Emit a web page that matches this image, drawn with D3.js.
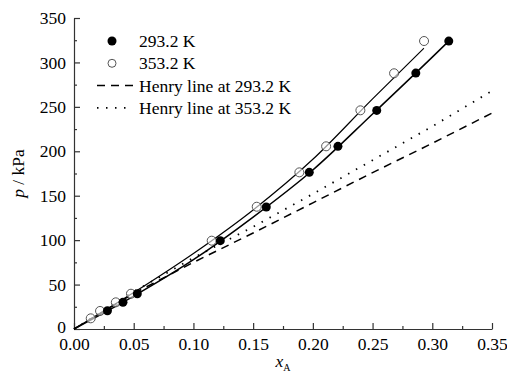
<!DOCTYPE html>
<html>
<head>
<meta charset="utf-8">
<script src="https://cdn.jsdelivr.net/npm/d3@7"></script>
<style>
  body { margin: 0; background: #fff; }
</style>
</head>
<body>
<div id="chart"></div>
<script>
// measured points, x_A vs p / kPa
const xs293 = [0.028, 0.041, 0.053, 0.1225, 0.161, 0.197, 0.221, 0.2535, 0.2862, 0.3138];
const ps293 = [20.6, 30.0, 39.7, 99.4, 137.3, 176.3, 205.6, 246.0, 288.0, 324.0];
const xs353 = [0.014, 0.0218, 0.035, 0.0477, 0.1153, 0.153, 0.1887, 0.2111, 0.2398, 0.268, 0.2931];
const ps353 = [12.0, 20.3, 30.0, 39.7, 99.4, 137.6, 176.3, 205.6, 246.1, 287.8, 324.1];

// fitted curves
const fitX293 = [0, 0.05, 0.10, 0.15, 0.20, 0.25, 0.30, 0.3138];
const fitP293 = [0, 37, 78, 126, 179, 242, 306, 324];
const fitX353 = [0, 0.05, 0.10, 0.15, 0.20, 0.25, 0.293];
const fitP353 = [0, 41, 85, 134, 191, 259, 316];

// Henry lines
const henryX = [0, 0.05, 0.10, 0.15, 0.20, 0.25, 0.30, 0.35];
const henryP293 = [0, 40, 75, 108, 142, 176, 209, 243];
const henryP353 = [0, 42, 80, 115, 152, 190, 228, 268];

const xTicks = [0, 0.05, 0.10, 0.15, 0.20, 0.25, 0.30, 0.35];
const yTicks = [0, 50, 100, 150, 200, 250, 300, 350];

const legendLabels = ["293.2 K", "353.2 K", "Henry line at 293.2 K", "Henry line at 353.2 K"];

const width = 507, height = 377;
const margin = {top: 18, right: 15, bottom: 48, left: 74};
const serif = "Liberation Serif";
const fs = 17.5;

const svg = d3.select("#chart")
  .append("svg")
    .attr("width", width)
    .attr("height", height)
    .attr("font-family", serif);

const x = d3.scaleLinear()
  .domain([0, 0.35])
  .range([margin.left, width - margin.right]);

const y = d3.scaleLinear()
  .domain([0, 350])
  .range([height - margin.bottom, margin.top]);

const zip = (a, b) => a.map((v, i) => [v, b[i]]);

// axes: ticks point inward, minor ticks between
const xAxis = d3.axisBottom(x).tickValues(xTicks).tickFormat(d3.format(".2f"))
  .tickSizeInner(-6).tickSizeOuter(0).tickPadding(9);
const xMinor = d3.axisBottom(x).tickValues(d3.range(0.025, 0.35, 0.05))
  .tickSizeInner(-3).tickSizeOuter(0).tickFormat("");

svg.append("g")
  .attr("transform", `translate(0, ${height - margin.bottom})`)
  .call(xAxis);
svg.append("g")
  .attr("transform", `translate(0, ${height - margin.bottom})`)
  .call(xMinor)
  .select(".domain").remove();

const yAxis = d3.axisLeft(y).tickValues(yTicks)
  .tickSizeInner(-6).tickSizeOuter(0).tickPadding(8);
const yMinor = d3.axisLeft(y).tickValues(d3.range(25, 350, 50))
  .tickSizeInner(-3).tickSizeOuter(0).tickFormat("");

const gy = svg.append("g")
  .attr("transform", `translate(${margin.left}, 0)`)
  .call(yAxis);
svg.append("g")
  .attr("transform", `translate(${margin.left}, 0)`)
  .call(yMinor)
  .select(".domain").remove();

svg.selectAll("g").attr("font-family", serif).attr("font-size", fs);
svg.selectAll(".domain, .tick line").attr("stroke", "#333").attr("stroke-width", 1.2);
svg.selectAll(".tick text").attr("fill", "#000");
// nudge the y "0" up a bit so it clears "0.00"
gy.selectAll(".tick text").filter(d => d === 0).attr("dy", "0.2em");

const line = d3.line().x(d => x(d[0])).y(d => y(d[1]));
const curve = d3.line().x(d => x(d[0])).y(d => y(d[1])).curve(d3.curveMonotoneX);

// Henry lines
svg.append("path")
  .datum(zip(henryX, henryP293))
  .attr("d", line)
  .attr("fill", "none")
  .attr("stroke", "#000")
  .attr("stroke-width", 1.5)
  .attr("stroke-dasharray", "8 6");

svg.append("path")
  .datum(zip(henryX, henryP353))
  .attr("d", line)
  .attr("fill", "none")
  .attr("stroke", "#000")
  .attr("stroke-width", 1.8)
  .attr("stroke-dasharray", "1.5 7.5");

// fit curves
svg.append("path")
  .datum(zip(fitX293, fitP293))
  .attr("d", curve)
  .attr("fill", "none")
  .attr("stroke", "#000")
  .attr("stroke-width", 1.5);

svg.append("path")
  .datum(zip(fitX353, fitP353))
  .attr("d", curve)
  .attr("fill", "none")
  .attr("stroke", "#000")
  .attr("stroke-width", 1.2);

// markers
svg.append("g")
  .selectAll("circle")
  .data(zip(xs353, ps353))
  .join("circle")
    .attr("cx", d => x(d[0]))
    .attr("cy", d => y(d[1]))
    .attr("r", 4.5)
    .attr("fill", "#fff")
    .attr("fill-opacity", 0.6)
    .attr("stroke", "#555")
    .attr("stroke-width", 1);

svg.append("g")
  .selectAll("circle")
  .data(zip(xs293, ps293))
  .join("circle")
    .attr("cx", d => x(d[0]))
    .attr("cy", d => y(d[1]))
    .attr("r", 4.5)
    .attr("fill", "#000");

// legend
const leg = svg.append("g").attr("transform", "translate(96, 41)");
const rowH = 22.3;
legendLabels.forEach((t, i) => {
  const row = leg.append("g").attr("transform", `translate(0, ${i * rowH})`);
  if (i === 0) {
    row.append("circle").attr("cx", 16).attr("cy", 0).attr("r", 4.5).attr("fill", "#000");
  } else if (i === 1) {
    row.append("circle").attr("cx", 16).attr("cy", 0).attr("r", 4)
      .attr("fill", "#fff").attr("stroke", "#555").attr("stroke-width", 1);
  } else {
    row.append("line").attr("x1", 1).attr("x2", 37).attr("y1", 0).attr("y2", 0)
      .attr("stroke", "#000")
      .attr("stroke-width", i === 2 ? 1.5 : 1.8)
      .attr("stroke-dasharray", i === 2 ? "8 6" : "1.5 7.5");
  }
  row.append("text")
    .attr("x", 43)
    .attr("y", 0)
    .attr("dy", "0.35em")
    .attr("font-size", fs)
    .text(t);
});

// axis titles
const yl = svg.append("text")
  .attr("transform", `translate(24, ${y(175)}) rotate(-90)`)
  .attr("text-anchor", "middle")
  .attr("font-size", fs);
yl.append("tspan").attr("font-style", "italic").text("p");
yl.append("tspan").text(" / kPa");

const xl = svg.append("text")
  .attr("x", x(0.175))
  .attr("y", height - 10)
  .attr("text-anchor", "middle")
  .attr("font-size", fs);
xl.append("tspan").attr("font-style", "italic").text("x");
xl.append("tspan").attr("dy", 4).attr("font-size", 10).text("A");
</script>
</body>
</html>
